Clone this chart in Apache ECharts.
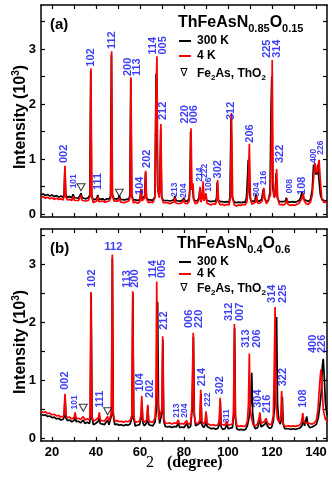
<!DOCTYPE html>
<html>
<head>
<meta charset="utf-8">
<script src="https://cdn.jsdelivr.net/npm/echarts@6/dist/echarts.min.js"></script>
<style>
html, body { margin: 0; padding: 0; background: #fff; }
#chart { width: 332px; height: 478px; }
</style>
</head>
<body>
<div id="chart"></div>
<script>
// ---- data (2theta in degree, intensity in 10^3) ----
// panel (a) ThFeAsN0.85O0.15
const a300K = [[15,0.35],[16,0.37],[17,0.34],[18,0.36],[19,0.33],[20,0.35],[21,0.32],[22,0.34],[23,0.31],[24,0.33],[25,0.31],[25.5,0.36],[25.85,0.85],[26.25,0.35],[27,0.31],[28,0.32],[29,0.3],[29.6,0.36],[30.2,0.3],[31,0.31],[32,0.29],[32.7,0.32],[33.2,0.38],[33.7,0.3],[34.5,0.3],[35.5,0.28],[36.5,0.3],[37.2,0.35],[37.6,2.6],[38,0.35],[38.7,0.26],[39.5,0.28],[40.3,0.28],[40.8,0.35],[41.3,0.27],[42,0.27],[43,0.28],[44,0.26],[45,0.28],[46,0.28],[46.6,0.33],[47.0,2.9],[47.4,0.36],[48.2,0.28],[49,0.27],[50,0.28],[50.6,0.34],[51.2,0.27],[52,0.27],[53,0.26],[54,0.27],[55,0.28],[55.4,0.35],[55.8,2.45],[56.2,0.35],[57,0.26],[58,0.26],[59,0.25],[60,0.27],[60.4,0.45],[60.8,0.28],[61.6,0.26],[62.1,0.33],[62.5,0.76],[62.9,0.3],[63.8,0.26],[64.8,0.26],[65.8,0.25],[66.8,0.32],[67.3,2.55],[67.6,2.0],[68.0,0.5],[68.6,0.33],[69.0,0.45],[69.4,1.55],[69.8,0.32],[70.6,0.25],[71.5,0.25],[72.5,0.25],[73.5,0.24],[74.5,0.25],[75.5,0.26],[75.8,0.33],[76.4,0.25],[77.5,0.24],[78.5,0.24],[79.5,0.26],[79.9,0.3],[80.5,0.24],[81.5,0.24],[82.3,0.28],[82.7,0.5],[83.0,1.5],[83.4,0.45],[83.9,0.5],[84.3,0.28],[85.2,0.24],[86.2,0.25],[86.8,0.3],[87.2,0.45],[87.6,0.26],[88.2,0.32],[88.6,0.52],[89.0,0.27],[89.5,0.28],[89.9,0.36],[90.3,0.25],[91.3,0.24],[92.3,0.23],[93.3,0.24],[94.3,0.23],[94.8,0.3],[95.1,0.58],[95.5,0.26],[96.5,0.23],[97.5,0.23],[98.5,0.22],[99.5,0.23],[100.5,0.22],[100.9,0.32],[101.4,1.75],[101.9,0.32],[102.8,0.22],[103.8,0.21],[104.8,0.22],[105.8,0.21],[106.8,0.22],[107.8,0.22],[108.4,0.3],[108.8,0.6],[109.2,0.99],[109.7,0.4],[110.4,0.24],[111.3,0.22],[112.2,0.24],[112.7,0.36],[113.2,0.24],[114.3,0.24],[115.3,0.27],[116.0,0.45],[116.5,0.3],[117.3,0.24],[118.3,0.24],[119.1,0.4],[119.6,2.0],[119.9,2.5],[120.3,0.5],[120.9,0.32],[121.4,0.38],[121.9,0.75],[122.4,0.3],[123.3,0.23],[124.2,0.22],[125.2,0.23],[126.2,0.24],[126.5,0.3],[127.1,0.23],[128.3,0.22],[129.3,0.23],[130.3,0.22],[131.3,0.23],[132.3,0.25],[133.0,0.3],[133.6,0.4],[134.0,0.34],[134.6,0.27],[135.5,0.24],[136.5,0.23],[137.5,0.27],[138.3,0.45],[138.9,0.9],[139.4,0.78],[140.2,0.72],[140.8,0.9],[141.3,0.65],[142,0.35],[142.8,0.26],[143.6,0.24],[144.4,0.24],[145,0.25]];
const a4K = [[15,0.30],[16,0.32],[17,0.29],[18,0.31],[19,0.28],[20,0.30],[21,0.27],[22,0.29],[23,0.27],[24,0.28],[25,0.26],[25.5,0.32],[25.9,0.88],[26.3,0.31],[27,0.26],[28,0.27],[29,0.25],[29.6,0.32],[30.2,0.25],[31,0.27],[32,0.25],[32.7,0.27],[33.2,0.34],[33.7,0.25],[34.5,0.26],[35.5,0.24],[36.5,0.25],[37.3,0.32],[37.7,2.65],[38.1,0.32],[38.7,0.21],[39.5,0.23],[40.3,0.24],[40.8,0.32],[41.3,0.23],[42,0.22],[43,0.24],[44,0.22],[45,0.23],[46,0.24],[46.7,0.3],[47.1,2.96],[47.5,0.33],[48.2,0.24],[49,0.22],[50,0.24],[50.6,0.3],[51.2,0.22],[52,0.23],[53,0.21],[54,0.23],[55,0.24],[55.5,0.32],[55.9,2.49],[56.3,0.32],[57,0.21],[58,0.22],[59,0.20],[60,0.23],[60.5,0.46],[60.9,0.24],[61.6,0.22],[62.2,0.3],[62.6,0.79],[63,0.28],[63.8,0.21],[64.8,0.22],[65.8,0.21],[66.8,0.3],[67.3,2.2],[67.7,2.87],[68.1,0.5],[68.7,0.3],[69.1,0.45],[69.5,1.64],[69.9,0.3],[70.6,0.21],[71.5,0.2],[72.5,0.21],[73.5,0.19],[74.5,0.21],[75.5,0.22],[75.9,0.3],[76.4,0.2],[77.5,0.19],[78.5,0.2],[79.5,0.22],[80,0.27],[80.5,0.2],[81.5,0.19],[82.4,0.24],[82.8,0.5],[83.2,1.56],[83.6,0.45],[84.1,0.56],[84.5,0.25],[85.2,0.19],[86.2,0.21],[86.9,0.28],[87.3,0.5],[87.7,0.22],[88.3,0.3],[88.7,0.6],[89.1,0.24],[89.6,0.25],[90,0.38],[90.4,0.2],[91.3,0.19],[92.3,0.17],[93.3,0.19],[94.3,0.18],[94.9,0.25],[95.3,0.62],[95.7,0.22],[96.5,0.17],[97.5,0.18],[98.5,0.16],[99.5,0.18],[100.5,0.17],[101.1,0.3],[101.6,1.84],[102.1,0.3],[102.8,0.17],[103.8,0.15],[104.8,0.17],[105.8,0.16],[106.8,0.18],[107.8,0.17],[108.6,0.22],[109.2,0.5],[109.7,1.28],[110.2,0.3],[110.9,0.18],[111.8,0.17],[112.6,0.22],[113,0.33],[113.5,0.2],[114.5,0.2],[115.5,0.24],[116.3,0.48],[116.8,0.28],[117.5,0.19],[118.4,0.2],[119.3,0.35],[119.8,1.5],[120.1,2.8],[120.5,0.6],[121,0.3],[121.6,0.35],[122.1,0.82],[122.6,0.3],[123.3,0.18],[124.2,0.16],[125.2,0.17],[126.2,0.19],[126.7,0.27],[127.3,0.18],[128.3,0.16],[129.3,0.17],[130.3,0.16],[131.3,0.18],[132.3,0.2],[133.2,0.22],[133.8,0.3],[134.2,0.38],[134.7,0.24],[135.5,0.19],[136.5,0.18],[137.5,0.22],[138.3,0.35],[138.8,0.6],[139.5,0.93],[140.2,0.75],[140.8,0.8],[141.4,0.99],[142,0.6],[142.6,0.3],[143.4,0.22],[144.2,0.2],[145,0.21]];
// panel (b) ThFeAsN0.4O0.6
const b300K = [[15,0.42],[16,0.4],[17,0.41],[18,0.38],[19,0.39],[20,0.36],[21,0.37],[22,0.34],[23,0.35],[24,0.32],[25,0.33],[25.5,0.37],[25.95,0.74],[26.35,0.35],[27,0.31],[28,0.32],[29,0.29],[30,0.31],[30.5,0.4],[31,0.29],[32,0.3],[33,0.27],[34.2,0.32],[35,0.26],[36,0.28],[37,0.26],[37.4,0.35],[37.8,2.5],[38.2,0.35],[38.8,0.24],[39.8,0.26],[40.6,0.24],[41.1,0.3],[41.55,0.4],[41.9,0.26],[42.8,0.25],[43.8,0.24],[44.6,0.25],[45.3,0.32],[45.9,0.24],[46.6,0.27],[47.05,0.4],[47.45,3.1],[47.85,0.4],[48.5,0.24],[49.5,0.25],[50.5,0.23],[51.5,0.24],[52.5,0.22],[53.5,0.24],[54.5,0.23],[55.5,0.25],[56.35,0.35],[56.75,2.5],[57.15,0.35],[57.8,0.22],[58.8,0.23],[59.8,0.24],[60.5,0.35],[60.9,0.62],[61.3,0.27],[62,0.22],[63.2,0.28],[63.6,0.55],[64,0.24],[64.8,0.21],[65.8,0.22],[66.8,0.28],[67.5,0.5],[68.0,2.35],[68.4,0.6],[68.9,0.26],[69.5,0.25],[70.0,0.45],[70.4,1.7],[70.8,0.3],[71.5,0.21],[72.5,0.2],[73.5,0.21],[74.5,0.19],[75.5,0.21],[76.5,0.2],[77.5,0.27],[78,0.19],[79,0.2],[80,0.19],[81.3,0.26],[82,0.18],[83,0.21],[83.7,0.5],[84.3,1.75],[84.7,0.4],[85.3,0.22],[86.2,0.19],[87.3,0.27],[87.7,0.78],[88.1,0.24],[89,0.19],[89.7,0.24],[90.1,0.42],[90.5,0.21],[91.4,0.18],[92.4,0.17],[93.4,0.18],[94.4,0.16],[95.4,0.18],[96.1,0.25],[96.5,0.65],[96.9,0.2],[97.6,0.16],[98.6,0.17],[99.5,0.24],[100.1,0.17],[101,0.16],[102,0.19],[102.6,0.4],[103.0,1.9],[103.4,0.35],[104,0.17],[105,0.15],[106,0.16],[107,0.15],[108,0.16],[108.8,0.22],[109.5,0.35],[110.3,0.6],[110.8,1.13],[111.2,0.45],[111.8,0.22],[112.5,0.17],[113.5,0.19],[114.2,0.28],[114.6,0.4],[115,0.2],[115.9,0.18],[116.8,0.25],[117.4,0.3],[117.9,0.22],[118.8,0.18],[119.8,0.19],[120.6,0.3],[121.3,0.6],[121.7,1.6],[122.1,2.09],[122.5,0.6],[123.1,0.3],[123.8,0.25],[124.3,0.35],[124.7,0.72],[125.1,0.25],[125.8,0.17],[126.6,0.16],[127.6,0.17],[128.6,0.16],[129.6,0.17],[130.6,0.16],[131.6,0.17],[132.6,0.18],[133.6,0.22],[134.3,0.32],[134.8,0.22],[135.4,0.25],[135.8,0.38],[136.3,0.24],[137.2,0.19],[138.2,0.2],[139.2,0.22],[140.2,0.25],[141.0,0.35],[141.7,0.55],[142.4,0.8],[142.9,1.25],[143.3,1.37],[143.7,1.1],[144.3,0.6],[145,0.4]];
const b4K = [[15,0.47],[16,0.45],[17,0.46],[18,0.43],[19,0.44],[20,0.41],[21,0.42],[22,0.39],[23,0.4],[24,0.37],[25,0.38],[25.5,0.42],[25.9,0.77],[26.3,0.4],[27,0.36],[28,0.37],[29,0.34],[30,0.36],[30.5,0.45],[31,0.34],[32,0.35],[33,0.33],[34.2,0.38],[35,0.32],[36,0.34],[37,0.32],[37.3,0.4],[37.7,2.52],[38.1,0.4],[38.8,0.3],[39.8,0.32],[40.6,0.3],[41.1,0.36],[41.5,0.45],[41.9,0.32],[42.8,0.31],[43.8,0.3],[44.6,0.31],[45.3,0.38],[45.9,0.3],[46.6,0.33],[47.0,0.45],[47.4,3.16],[47.8,0.45],[48.5,0.3],[49.5,0.31],[50.5,0.29],[51.5,0.3],[52.5,0.28],[53.5,0.3],[54.5,0.29],[55.5,0.31],[56.3,0.4],[56.7,2.53],[57.1,0.4],[57.8,0.28],[58.8,0.29],[59.8,0.3],[60.4,0.4],[60.8,0.73],[61.2,0.33],[62,0.28],[63.1,0.33],[63.5,0.58],[63.9,0.3],[64.8,0.27],[65.8,0.28],[66.8,0.35],[67.2,0.6],[67.6,2.7],[68,0.8],[68.5,0.32],[69.2,0.3],[69.9,0.5],[70.3,1.76],[70.7,0.35],[71.5,0.27],[72.5,0.26],[73.5,0.27],[74.5,0.25],[75.5,0.27],[76.5,0.26],[77.4,0.32],[78,0.25],[79,0.26],[80,0.25],[81.2,0.31],[82,0.24],[83,0.27],[83.6,0.55],[84.2,1.82],[84.6,0.45],[85.2,0.28],[86.2,0.25],[87.2,0.32],[87.6,0.84],[88,0.3],[89,0.25],[89.6,0.3],[90,0.47],[90.4,0.27],[91.4,0.24],[92.4,0.23],[93.4,0.24],[94.4,0.22],[95.4,0.24],[96,0.3],[96.4,0.7],[96.8,0.25],[97.6,0.22],[98.6,0.23],[99.4,0.3],[100.1,0.23],[101,0.22],[102,0.25],[102.5,0.45],[102.9,1.97],[103.3,0.4],[104,0.23],[105,0.21],[106,0.22],[107,0.21],[108,0.22],[108.8,0.3],[109.3,0.6],[109.7,1.46],[110.1,0.5],[110.7,0.35],[111.4,0.24],[112.4,0.22],[113.4,0.25],[114.1,0.35],[114.5,0.45],[114.9,0.26],[115.8,0.24],[116.7,0.3],[117.3,0.35],[117.8,0.28],[118.8,0.24],[119.8,0.25],[120.6,0.4],[121.0,1.2],[121.4,2.26],[121.8,0.6],[122.4,0.35],[123.3,0.28],[124.0,0.4],[124.4,0.82],[124.8,0.3],[125.6,0.22],[126.6,0.21],[127.6,0.22],[128.6,0.21],[129.6,0.22],[130.6,0.21],[131.6,0.22],[132.6,0.23],[133.4,0.28],[134.0,0.44],[134.5,0.28],[135.4,0.25],[136.3,0.27],[137.2,0.24],[138.2,0.25],[139.2,0.27],[140.2,0.32],[140.9,0.5],[141.5,0.85],[142.0,1.1],[142.3,1.19],[142.7,0.9],[143.3,0.5],[144.1,0.35],[145,0.3]];

// impurity marks (Fe2As, ThO2)
const aImpurity = [[33.2, 0.49], [50.6, 0.39]];
const bImpurity = [[34.2, 0.53], [45.3, 0.47]];

// hkl labels: [2theta, intensity at label foot, text]
const aHkl = [[25.6,0.93,'002'],[37.7,2.68,'102'],[41.0,0.44,'111'],[47.4,3.0,'112'],[54.7,2.51,'200'],[58.5,2.51,'113'],[60.0,0.35,'104'],[63.0,0.84,'202'],[65.8,2.9,'114'],[70.3,2.9,'005'],[70.6,1.71,'212'],[80.5,1.65,'220'],[84.7,1.65,'006'],[95.3,0.65,'302'],[101.4,1.71,'312'],[110.0,1.3,'206'],[117.9,2.84,'225'],[122.1,2.84,'314'],[123.6,0.93,'322'],[133.5,0.35,'108']];
const aHklSmall = [[30.0,0.47,'101'],[75.9,0.32,'213'],[80.0,0.30,'204'],[87.3,0.59,'214'],[89.5,0.66,'222'],[91.4,0.41,'106'],[113.0,0.32,'304'],[116.4,0.53,'216'],[127.9,0.38,'008'],[138.8,0.93,'400'],[142.1,1.08,'226']];
const bHkl = [[25.9,0.84,'002'],[38.0,2.59,'102'],[41.8,0.53,'111'],[54.2,2.59,'113'],[57.7,2.59,'200'],[60.0,0.81,'104'],[64.5,0.7,'202'],[66.0,2.76,'114'],[69.9,2.76,'005'],[70.9,1.87,'212'],[82.4,1.9,'006'],[87.0,1.9,'220'],[88.0,0.9,'214'],[96.4,0.76,'302'],[100.6,2.02,'312'],[105.5,2.02,'007'],[108.2,1.56,'313'],[113.0,1.56,'206'],[113.8,0.53,'304'],[117.6,0.44,'216'],[119.9,2.33,'314'],[125.1,2.33,'225'],[125.1,0.9,'322'],[134.0,0.53,'108'],[138.8,1.47,'400'],[142.9,1.47,'226']];
const bHklSmall = [[30.5,0.5,'101'],[76.7,0.36,'213'],[80.5,0.36,'204'],[90.6,0.55,'222'],[99.4,0.27,'311']];
const bHklFlat = [[47.9,3.3,'112']];

const xTicks = [20, 30, 40, 50, 60, 70, 80, 90, 100, 110, 120, 130, 140];
const xLabels = [20, 40, 60, 80, 100, 120, 140];
const yTicksA = [0, 0.5, 1, 1.5, 2, 2.5, 3, 3.5];
const yTicksB = [0, 0.5, 1, 1.5, 2, 2.5, 3, 3.5];
const yLabels = [0, 1, 2, 3];

const FONT = 'Liberation Sans, Arial, sans-serif';
const SERIF = 'Liberation Serif, Times New Roman, serif';
const BLUE = '#0d0df2';

const chart = echarts.init(document.getElementById('chart'));

function xAxis(grid, pos, labels) {
  return {
    type: 'value', gridIndex: grid, position: pos, min: 15, max: 145,
    axisLine: { onZero: false, lineStyle: { color: '#000', width: 1.5 } },
    axisTick: { inside: true, length: 4, customValues: xTicks, lineStyle: { color: '#000', width: 1.2 } },
    axisLabel: { show: labels, customValues: xLabels, margin: 5, color: '#000', fontSize: 13, fontWeight: 'bold', fontFamily: FONT },
    splitLine: { show: false }
  };
}
function yAxis(grid, pos, min, max, ticks, labels) {
  return {
    type: 'value', gridIndex: grid, position: pos, min: min, max: max,
    axisLine: { onZero: false, lineStyle: { color: '#000', width: 1.5 } },
    axisTick: { inside: true, length: 4, customValues: ticks, lineStyle: { color: '#000', width: 1.2 } },
    axisLabel: { show: labels, customValues: yLabels, margin: 5, color: '#000', fontSize: 13, fontWeight: 'bold', fontFamily: FONT },
    splitLine: { show: false }
  };
}
function pattern(data, color, xi, yi) {
  return {
    type: 'line', data: data, xAxisIndex: xi, yAxisIndex: yi,
    showSymbol: false, silent: true, animation: false,
    lineStyle: { color: color, width: 1.7 }
  };
}
function hkl(data, xi, yi, size, flat) {
  return {
    type: 'scatter', data: data, xAxisIndex: xi, yAxisIndex: yi, z: 5,
    symbolSize: 1, itemStyle: { color: 'rgba(0,0,0,0)' }, silent: true,
    label: {
      show: true, position: 'inside',
      rotate: flat ? 0 : 90, align: flat ? 'center' : 'left', verticalAlign: 'middle',
      formatter: p => p.data[2],
      color: BLUE, fontSize: size, fontWeight: 'bold', fontFamily: FONT
    }
  };
}
function impurity(data, xi, yi) {
  return {
    type: 'scatter', data: data, xAxisIndex: xi, yAxisIndex: yi, z: 4,
    symbol: 'triangle', symbolRotate: 180, symbolSize: [8, 7], silent: true,
    itemStyle: { color: '#fff', borderColor: '#000', borderWidth: 1 }
  };
}

// title / legend blocks drawn as text
const sub = { fontSize: 11, fontWeight: 'bold', fontFamily: FONT, fill: '#000', verticalAlign: 'bottom', lineHeight: 11 };
const big = { fontSize: 16, fontWeight: 'bold', fontFamily: FONT, fill: '#000', lineHeight: 22 };
const leg = { fontSize: 12, fontWeight: 'bold', fontFamily: FONT, fill: '#000', lineHeight: 16 };
const legSub = { fontSize: 8, fontWeight: 'bold', fontFamily: FONT, fill: '#000', verticalAlign: 'bottom', lineHeight: 8 };

function panelText(tag, tagY, formula, fx, fy, l1, l2, l3) {
  return [
    { type: 'text', x: 50, y: tagY, style: { text: tag, fontSize: 15, fontWeight: 'bold', fontFamily: FONT, fill: '#000', verticalAlign: 'middle' } },
    { type: 'text', x: fx, y: fy, style: { text: formula, rich: { m: big, s: sub }, verticalAlign: 'middle' } },
    { type: 'line', shape: { x1: 179, y1: l1, x2: 191, y2: l1 }, style: { stroke: '#000', lineWidth: 2 } },
    { type: 'text', x: 197, y: l1, style: { text: '300 K', fontSize: 12, fontWeight: 'bold', fontFamily: FONT, fill: '#000', verticalAlign: 'middle' } },
    { type: 'line', shape: { x1: 179, y1: l2, x2: 191, y2: l2 }, style: { stroke: '#f00', lineWidth: 2 } },
    { type: 'text', x: 197, y: l2, style: { text: '4 K', fontSize: 12, fontWeight: 'bold', fontFamily: FONT, fill: '#000', verticalAlign: 'middle' } },
    { type: 'text', x: 184, y: l3, style: { text: '∇', fontSize: 11, fontFamily: 'DejaVu Sans', fill: '#000', align: 'center', verticalAlign: 'middle' } },
    { type: 'text', x: 197, y: l3 + 1, style: { text: '{t|Fe}{u|2}{t|As, ThO}{u|2}', rich: { t: leg, u: legSub }, verticalAlign: 'middle' } }
  ];
}
function yName(y) {
  return {
    type: 'text', x: 21, y: y, rotation: Math.PI / 2,
    style: {
      text: '{t|Intensity (10}{p|3}{t|)}', align: 'center', verticalAlign: 'middle',
      rich: {
        t: { fontSize: 16, fontWeight: 'bold', fontFamily: FONT, fill: '#000', lineHeight: 20 },
        p: { fontSize: 10, fontWeight: 'bold', fontFamily: FONT, fill: '#000', verticalAlign: 'top', lineHeight: 10 }
      }
    }
  };
}

const option = {
  animation: false,
  backgroundColor: '#fff',
  grid: [
    { left: 41, top: 5, width: 286, height: 212 },
    { left: 41, top: 229, width: 286, height: 212 }
  ],
  xAxis: [xAxis(0, 'bottom', false), xAxis(0, 'top', false), xAxis(1, 'bottom', true), xAxis(1, 'top', false)],
  yAxis: [
    yAxis(0, 'left', -0.05, 3.8, yTicksA, true), yAxis(0, 'right', -0.05, 3.8, yTicksA, false),
    yAxis(1, 'left', -0.04, 3.6, yTicksB, true), yAxis(1, 'right', -0.04, 3.6, yTicksB, false)
  ],
  series: [
    pattern(a300K, '#000', 0, 0),
    pattern(a4K, '#f00', 0, 0),
    pattern(b300K, '#000', 2, 2),
    pattern(b4K, '#f00', 2, 2),
    impurity(aImpurity, 0, 0),
    impurity(bImpurity, 2, 2),
    hkl(aHkl, 0, 0, 11),
    hkl(aHklSmall, 0, 0, 8.5),
    hkl(bHkl, 2, 2, 11),
    hkl(bHklSmall, 2, 2, 8.5),
    hkl(bHklFlat, 2, 2, 11, true)
  ],
  graphic: [].concat(
    panelText('(a)', 25, '{m|ThFeAsN}{s|0.85}{m|O}{s|0.15}', 178, 23, 41, 56, 73),
    panelText('(b)', 249, '{m|ThFeAsN}{s|0.4}{m|O}{s|0.6}', 177, 244, 262, 274, 288),
    [
      yName(117),
      yName(342),
      { type: 'text', x: 150, y: 463, style: { text: '2', fontSize: 16, fontFamily: SERIF, fill: '#000', align: 'center', verticalAlign: 'middle' } },
      { type: 'text', x: 167, y: 463, style: { text: '(degree)', fontSize: 16, fontWeight: 'bold', fontFamily: SERIF, fill: '#000', verticalAlign: 'middle' } }
    ]
  )
};

chart.setOption(option);
</script>
</body>
</html>
